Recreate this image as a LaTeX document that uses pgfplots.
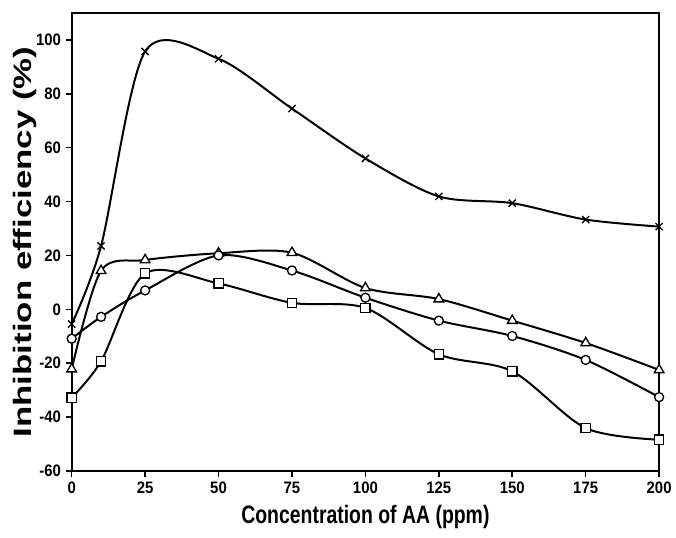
\documentclass[border=0pt]{standalone}
\usepackage{fontspec}
\setmainfont{Liberation Sans}
\newfontfamily\ticksf[FakeStretch=0.9]{Liberation Sans}
\newfontfamily\xlabsf[FakeStretch=0.77]{Liberation Sans}
\newfontfamily\ylabsf[FakeStretch=1.38]{Liberation Sans}
\usepackage{pgfplots}
\pgfplotsset{compat=1.18}
\pgfplotsset{
  ser/.style={draw=black, line width=1.5pt, smooth, tension=0.5,
     mark options={solid, draw=black, fill=white, line width=1pt}},
}
\begin{document}
\begin{tikzpicture}
\begin{axis}[
  at={(0,0)}, anchor=south west,
  scale only axis,
  width=442.5pt, height=345pt,
  xmin=0, xmax=200, ymin=-60, ymax=110,
  xtick={0,25,50,75,100,125,150,175,200},
  xticklabels={0,25,50,75,100,125,150,175,200},
  ytick={-60,-40,-20,0,20,40,60,80,100},
  yticklabels={-60,-40,-20,0,20,40,60,80,100},
  tick align=outside,
  xtick pos=left, ytick pos=left,
  major tick length=4.5pt,
  tick style={line width=1.2pt, black},
  axis line style={line width=1.6pt},
  ticklabel style={font=\ticksf\bfseries\fontsize{12.5}{14}\selectfont},
  xlabel={\xlabsf\bfseries\fontsize{19}{22}\selectfont Concentration of AA (ppm)},
  ylabel={\ylabsf\bfseries\fontsize{19}{22}\selectfont Inhibition efficiency (\%)},
  xlabel style={at={(axis description cs:0.5,-0.1014)}, anchor=center},
  ylabel style={at={(axis description cs:-0.079,0.5)}, anchor=center},
  clip=false,
]
% cross series
\addplot[ser, mark=x, mark size=3.8pt] coordinates {
 (0,-5.5) (10,23.5) (25,95.7) (50,93) (75,74.5) (100,56) (125,41.9) (150,39.4) (175,33.3) (200,30.7)
};
% triangle series
\addplot[ser, mark=triangle*, mark size=4.2pt] coordinates {
 (0,-22.2) (10,14.3) (25,18.3) (50,20.8) (75,21) (100,7.9) (125,3.8) (150,-4.2) (175,-12.5) (200,-22.5)
};
% circle series
\addplot[ser, mark=*, mark size=3.4pt] coordinates {
 (0,-10.9) (10,-2.8) (25,7) (50,20) (75,14.4) (100,4.3) (125,-4.2) (150,-9.9) (175,-18.8) (200,-32.6)
};
% square series
\addplot[ser, mark=square*, mark size=3.5pt] coordinates {
 (0,-32.8) (10,-19.3) (25,13.3) (50,9.6) (75,2.4) (100,0.5) (125,-16.7) (150,-23) (175,-44.1) (200,-48.4)
};
\end{axis}
\useasboundingbox (-54pt,-50.25pt) rectangle (453pt,354.75pt);
\end{tikzpicture}
\end{document}
